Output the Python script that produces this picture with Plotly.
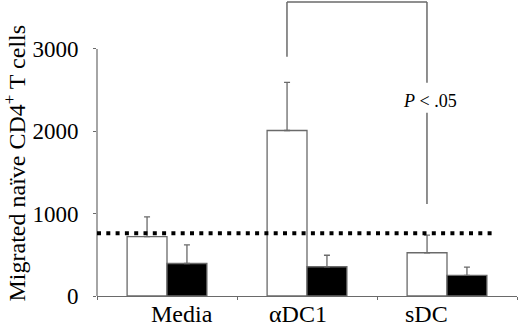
import plotly.graph_objects as go

# ---- data ----
categories = ["Media", "αDC1", "sDC"]
open_values = [720, 2010, 525]
open_errors = [240, 585, 215]
filled_values = [395, 355, 250]
filled_errors = [225, 140, 100]
ytick_values = [0, 1000, 2000, 3000]
baseline_value = 762
y_title = "Migrated naïve CD4<sup>+</sup> T cells"
p_label = "<i>P</i> < .05"

# ---- style ----
FONT = "Liberation Serif"
GRAY = "#6a6a6a"
Y_MAX = 3595
label_shift = [0.11, -0.064, -0.143]   # horizontal placement of category labels

fig = go.Figure()
fig.add_trace(go.Bar(
    x=categories, y=open_values,
    marker=dict(color="white", line=dict(color=GRAY, width=1.3)),
    error_y=dict(type="data", symmetric=False, array=open_errors,
                 arrayminus=[0] * len(open_errors), color=GRAY,
                 thickness=1.3, width=3),
))
fig.add_trace(go.Bar(
    x=categories, y=filled_values,
    marker=dict(color="black", line=dict(color=GRAY, width=1.3)),
    error_y=dict(type="data", symmetric=False, array=filled_errors,
                 arrayminus=[0] * len(filled_errors), color=GRAY,
                 thickness=1.3, width=3),
))

shapes = []
# y axis line (only up to top tick)
shapes.append(dict(type="line", xref="paper", yref="paper", x0=0, x1=0,
                   y0=0, y1=ytick_values[-1] / Y_MAX,
                   line=dict(color=GRAY, width=1.2)))
# dotted baseline
shapes.append(dict(type="line", xref="x", yref="y", x0=-0.5, x1=2.33,
                   y0=baseline_value, y1=baseline_value, layer="above",
                   line=dict(color="black", width=4, dash="4px,5.3px")))
# significance bracket between open bars of αDC1 and sDC
xl, xr = 1 - 0.143, 2 - 0.143
shapes += [
    dict(type="line", xref="x", yref="y", x0=xl, x1=xr, y0=3571, y1=3571,
         line=dict(color=GRAY, width=1.5)),
    dict(type="line", xref="x", yref="y", x0=xl, x1=xl, y0=3571, y1=2905,
         line=dict(color=GRAY, width=1.5)),
    dict(type="line", xref="x", yref="y", x0=xr, x1=xr, y0=3571, y1=2590,
         line=dict(color=GRAY, width=1.5)),
    dict(type="line", xref="x", yref="y", x0=xr, x1=xr, y0=2225, y1=1118,
         line=dict(color=GRAY, width=1.5)),
]

annotations = [
    dict(text=p_label, x=1.879, y=2368, xref="x", yref="y", showarrow=False,
         font=dict(family=FONT, size=18, color="black"),
         xanchor="center", yanchor="middle"),
    dict(text=y_title, x=-0.196, y=0.45, xref="paper", yref="paper",
         showarrow=False, textangle=-90,
         font=dict(family=FONT, size=24, color="black"),
         xanchor="center", yanchor="middle"),
]
for i, c in enumerate(categories):
    annotations.append(dict(text=c, x=i + label_shift[i], y=0, xref="x",
                            yref="paper", yshift=-3, showarrow=False,
                            xanchor="center", yanchor="top",
                            font=dict(family=FONT, size=24, color="black")))

fig.update_layout(
    width=520, height=323,
    margin=dict(l=97, r=3, t=0, b=27),
    paper_bgcolor="white", plot_bgcolor="white",
    barmode="group", bargap=0.43, bargroupgap=0,
    showlegend=False,
    shapes=shapes, annotations=annotations,
    font=dict(family=FONT, color="black"),
    xaxis=dict(range=[-0.5, 2.5], showline=True, linecolor=GRAY, linewidth=1.2,
               ticks="outside", tickson="boundaries", ticklen=3,
               tickcolor=GRAY, showticklabels=False, showgrid=False,
               zeroline=False),
    yaxis=dict(range=[0, Y_MAX], tickvals=ytick_values, showline=False,
               ticks="outside", ticklen=3, tickcolor=GRAY, showgrid=False,
               zeroline=False, ticklabelstandoff=10,
               tickfont=dict(family=FONT, size=23, color="black")),
)

fig.write_html("out.html", config={"displayModeBar": False},
               post_script="document.body.style.margin='0';")
